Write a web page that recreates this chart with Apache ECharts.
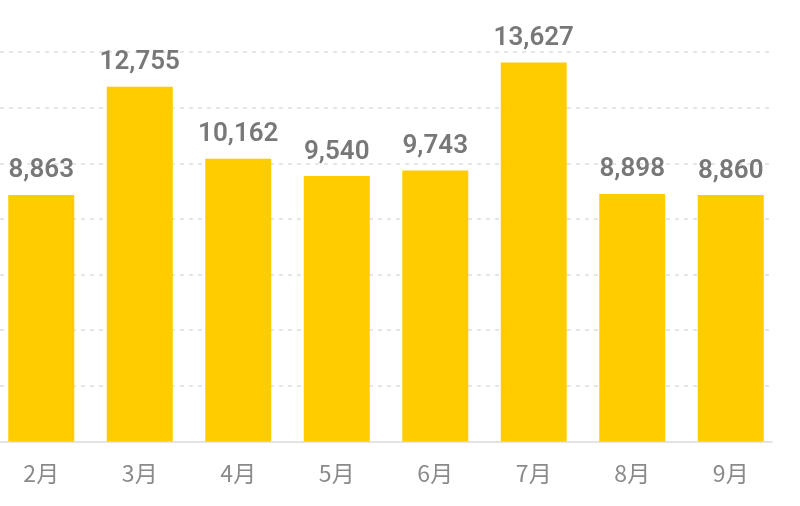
<!DOCTYPE html>
<html><head><meta charset="utf-8">
<script src="https://cdn.jsdelivr.net/npm/echarts@6/dist/echarts.min.js"></script>
<style>html,body{margin:0;padding:0;background:#fff}#c{width:800px;height:506px}</style>
</head><body><div id="c"></div>
<script>
const categories = ['2月','3月','4月','5月','6月','7月','8月','9月'];
const values = [8863, 12755, 10162, 9540, 9743, 13627, 8898, 8860];
const yMin = 0, yMax = 14000, yStep = 2000;

const chart = echarts.init(document.getElementById('c'), null, {renderer:'canvas'});
chart.setOption({
  animation:false,
  grid:[
    {left:-8, right:20, top:52, height:389.5, containLabel:false, outerBoundsMode:'none'},
    {left:0, right:28, top:52, height:389.5, containLabel:false, outerBoundsMode:'none'}
  ],
  xAxis:[
    {type:'category', gridIndex:0, data:categories,
     axisLine:{show:false}, axisTick:{show:false},
     axisLabel:{color:'#8a8a8a', fontSize:23, margin:20, fontFamily:'"Noto Sans CJK JP","Noto Sans",sans-serif'}},
    {type:'category', gridIndex:1, data:categories,
     axisLine:{show:true, lineStyle:{color:'#e3e3e3', width:2}}, axisTick:{show:false}, axisLabel:{show:false}}
  ],
  yAxis:[
    {type:'value', gridIndex:0, min:yMin, max:yMax, interval:yStep,
     axisLine:{show:false}, axisTick:{show:false}, axisLabel:{show:false}, splitLine:{show:false}},
    {type:'value', gridIndex:1, min:yMin, max:yMax, interval:yStep,
     axisLine:{show:false}, axisTick:{show:false}, axisLabel:{show:false},
     splitLine:{show:true, lineStyle:{color:'#dedede', width:1.5, type:[4,5]}}}
  ],
  series:[{
    type:'bar', xAxisIndex:0, yAxisIndex:0, data:values, barWidth:66,
    itemStyle:{color:'#FFCC00'},
    label:{show:true, position:'top', distance:11, color:'#787878', fontSize:26, fontWeight:600,
      fontFamily:'Roboto, "Noto Sans", sans-serif',
      formatter:p=>p.value.toLocaleString('en-US')}
  }]
});
</script></body></html>
